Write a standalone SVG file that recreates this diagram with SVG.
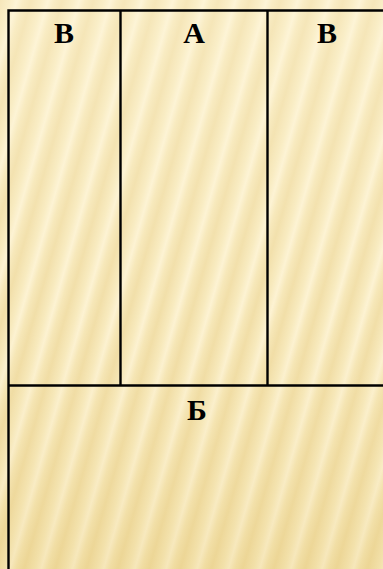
<svg xmlns="http://www.w3.org/2000/svg" width="383" height="569" viewBox="0 0 383 569">
<defs>
<linearGradient id="sg" x1="0" y1="0" x2="1" y2="0">
<stop offset="0" stop-color="#eed89a"/>
<stop offset="0.35" stop-color="#f6e7b6"/>
<stop offset="0.55" stop-color="#fcf1cf"/>
<stop offset="0.75" stop-color="#f4e3ae"/>
<stop offset="1" stop-color="#eed89a"/>
</linearGradient>
<pattern id="stripes" width="30" height="200" patternUnits="userSpaceOnUse" patternTransform="rotate(16)">
<rect width="30" height="200" fill="url(#sg)"/>
</pattern>
<linearGradient id="fade" x1="0" y1="0" x2="0" y2="1">
<stop offset="0" stop-color="#fff8e0" stop-opacity="0.45"/>
<stop offset="0.55" stop-color="#fff8e0" stop-opacity="0.2"/>
<stop offset="1" stop-color="#e8cf88" stop-opacity="0.3"/>
</linearGradient>
<style>
.ln{stroke:#000;stroke-width:2.4;fill:none}
.lb{font-family:"Liberation Serif","Times New Roman",serif;font-weight:bold;font-size:30px;text-anchor:middle;fill:#000}
</style>
</defs>
<rect width="383" height="569" fill="url(#stripes)"/>
<rect width="383" height="569" fill="url(#fade)"/>
<g id="connectors">
<path class="ln" d="M385 10.5 H8.5 V571"/>
<line class="ln" x1="120.5" y1="10" x2="120.5" y2="386"/>
<line class="ln" x1="267.5" y1="10" x2="267.5" y2="386"/>
<line class="ln" x1="8" y1="385.5" x2="385" y2="385.5"/>
</g>
<g id="cellV1"><text class="lb" x="64" y="43">В</text></g>
<g id="cellA"><text class="lb" x="194" y="43">А</text></g>
<g id="cellV2"><text class="lb" x="327" y="43">В</text></g>
<g id="cellB"><text class="lb" x="197" y="420">Б</text></g>
</svg>
